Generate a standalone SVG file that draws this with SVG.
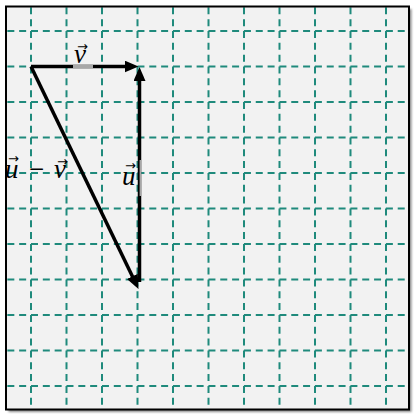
<svg xmlns="http://www.w3.org/2000/svg" width="415" height="417" viewBox="0 0 415 417">
  <style>
    .grid line { stroke: #1f8a7c; stroke-width: 2; stroke-dasharray: 7 4.83; }
    .vec { stroke: #000; stroke-width: 3.5; fill: none; marker-end: url(#ah); }
    .lbl { font-family: "Liberation Serif", "DejaVu Serif", serif; font-style: italic; font-size: 27px; fill: #000; }
    .acc { font-family: "DejaVu Sans", sans-serif; font-size: 13px; fill: #000; }
  </style>
  <defs>
    <marker id="ah" markerUnits="userSpaceOnUse" markerWidth="14" markerHeight="12" refX="6" refY="6" orient="auto">
      <path d="M0,0 L14,6 L0,12 z" fill="#000"/>
    </marker>
    <filter id="sh" x="-5%" y="-5%" width="110%" height="110%">
      <feGaussianBlur stdDeviation="1.2"/>
    </filter>
    <clipPath id="frame">
      <rect x="6" y="6.5" width="403" height="403"/>
    </clipPath>
  </defs>
  <rect width="415" height="417" fill="#ffffff"/>
  <rect id="shadow" x="8.5" y="9" width="403" height="403" fill="#8a8a8a" filter="url(#sh)"/>
  <rect id="board" x="6" y="6.5" width="403" height="403" fill="#f2f2f2"/>
  <g class="grid" clip-path="url(#frame)">
    <line x1="31" y1="-4.5" x2="31" y2="421.5"/>
    <line x1="66.5" y1="-4.5" x2="66.5" y2="421.5"/>
    <line x1="102" y1="-4.5" x2="102" y2="421.5"/>
    <line x1="137.5" y1="-4.5" x2="137.5" y2="421.5"/>
    <line x1="173" y1="-4.5" x2="173" y2="421.5"/>
    <line x1="208.5" y1="-4.5" x2="208.5" y2="421.5"/>
    <line x1="244" y1="-4.5" x2="244" y2="421.5"/>
    <line x1="279.5" y1="-4.5" x2="279.5" y2="421.5"/>
    <line x1="315" y1="-4.5" x2="315" y2="421.5"/>
    <line x1="350.5" y1="-4.5" x2="350.5" y2="421.5"/>
    <line x1="386" y1="-4.5" x2="386" y2="421.5"/>
    <line x1="-4.5" y1="31" x2="421.5" y2="31"/>
    <line x1="-4.5" y1="66.5" x2="421.5" y2="66.5"/>
    <line x1="-4.5" y1="102" x2="421.5" y2="102"/>
    <line x1="-4.5" y1="137.5" x2="421.5" y2="137.5"/>
    <line x1="-4.5" y1="173" x2="421.5" y2="173"/>
    <line x1="-4.5" y1="208.5" x2="421.5" y2="208.5"/>
    <line x1="-4.5" y1="244" x2="421.5" y2="244"/>
    <line x1="-4.5" y1="279.5" x2="421.5" y2="279.5"/>
    <line x1="-4.5" y1="315" x2="421.5" y2="315"/>
    <line x1="-4.5" y1="350.5" x2="421.5" y2="350.5"/>
    <line x1="-4.5" y1="386" x2="421.5" y2="386"/>
  </g>
  <rect id="border" x="6" y="6.5" width="403" height="403" fill="none" stroke="#000" stroke-width="2"/>
  <g id="connectors">
    <line id="vec-v" class="vec" x1="31" y1="66.5" x2="130.5" y2="66.5"/>
    <line id="vec-u" class="vec" x1="139.5" y1="282" x2="139.5" y2="75"/>
    <line id="vec-u-minus-v" class="vec" x1="31" y1="66.5" x2="135" y2="281.8"/>
    <rect x="73" y="64.8" width="20" height="3.5" fill="#a8a8a8"/>
    <rect x="139.6" y="160" width="1.7" height="36" fill="#a8a8a8"/>
  </g>
  <g id="label-v">
    <text class="lbl" x="74" y="63">v</text>
    <text class="acc" x="77" y="51">→</text>
  </g>
  <g id="label-u">
    <text class="lbl" x="122" y="185">u</text>
    <text class="acc" x="125" y="170">→</text>
  </g>
  <g id="label-u-minus-v">
    <text class="lbl" x="5" y="178">u<tspan x="29" font-style="normal">−</tspan><tspan x="54">v</tspan></text>
    <text class="acc" x="8" y="163">→</text>
    <text class="acc" x="57" y="166">→</text>
  </g>
</svg>
